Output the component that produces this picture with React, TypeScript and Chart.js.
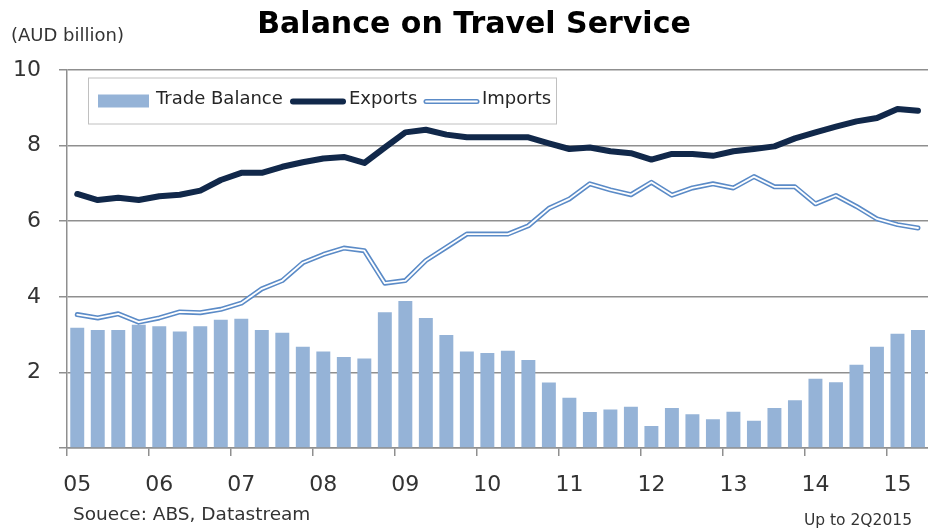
import React, { useEffect, useRef } from "react";
import { Chart, registerables } from "chart.js";

Chart.register(...registerables);

const years = ["05", "06", "07", "08", "09", "10", "11", "12", "13", "14", "15"];
const quarters = years.flatMap((y) => ["1Q", "2Q", "3Q", "4Q"].map((q) => q + y)).slice(0, 42);

const tradeBalance = [
  3.18, 3.12, 3.12, 3.26, 3.22, 3.08, 3.22, 3.39, 3.42, 3.12,
  3.05, 2.68, 2.55, 2.41, 2.37, 3.59, 3.89, 3.44, 2.99, 2.55,
  2.51, 2.57, 2.33, 1.73, 1.33, 0.95, 1.02, 1.09, 0.58, 1.06,
  0.89, 0.76, 0.96, 0.72, 1.06, 1.26, 1.83, 1.74, 2.2, 2.68,
  3.02, 3.12,
];
const exportsData = [
  6.72, 6.56, 6.62, 6.56, 6.66, 6.7, 6.81, 7.09, 7.28, 7.28,
  7.44, 7.56, 7.66, 7.7, 7.54, 7.95, 8.35, 8.42, 8.29, 8.22,
  8.22, 8.22, 8.22, 8.06, 7.91, 7.95, 7.85, 7.8, 7.63, 7.78,
  7.78, 7.73, 7.85, 7.91, 7.98, 8.19, 8.35, 8.5, 8.64, 8.73,
  8.97, 8.92,
];
const importsData = [
  3.53, 3.44, 3.55, 3.33, 3.44, 3.6, 3.58, 3.67, 3.83, 4.21,
  4.43, 4.9, 5.12, 5.29, 5.22, 4.36, 4.43, 4.96, 5.31, 5.66,
  5.66, 5.66, 5.88, 6.34, 6.59, 6.99, 6.83, 6.7, 7.03, 6.69,
  6.88, 6.99, 6.88, 7.18, 6.91, 6.91, 6.46, 6.68, 6.39, 6.06,
  5.91, 5.82,
];

const TITLE = "Balance on Travel Service";
const UNIT = "(AUD billion)";
const SOURCE = "Souece: ABS, Datastream";
const NOTE = "Up to 2Q2015";
const LEGEND = ["Trade Balance", "Exports", "Imports"];

const BAR_COLOR = "#95B3D7";
const EXP_COLOR = "#11284A";
const IMP_COLOR = "#5B8BC7";
const GRID = "#8f8f8f";
const FONT = "'DejaVu Sans', Verdana, sans-serif";

const decorPlugin = {
  id: "decor",
  afterDraw(chart: any) {
    const ctx = chart.ctx as CanvasRenderingContext2D;
    const ca = chart.chartArea;
    ctx.save();
    // title
    ctx.fillStyle = "#000";
    ctx.font = "bold 30px " + FONT;
    ctx.textAlign = "center";
    ctx.textBaseline = "middle";
    ctx.fillText(TITLE, 474, 25);
    // unit
    ctx.fillStyle = "#333";
    ctx.font = "18px " + FONT;
    ctx.textAlign = "left";
    ctx.fillText(UNIT, 11, 36);
    // source
    ctx.font = "18.5px " + FONT;
    ctx.fillText(SOURCE, 73, 515);
    // note
    ctx.font = "15.5px " + FONT;
    ctx.textAlign = "right";
    ctx.fillText(NOTE, 912, 521);

    // legend box
    const bx = ca.left + 21;
    const by = ca.top + 7.5;
    ctx.fillStyle = "#fff";
    ctx.fillRect(bx, by, 468, 46);
    ctx.strokeStyle = "#c0c0c0";
    ctx.lineWidth = 1;
    ctx.strokeRect(bx + 0.5, by + 0.5, 468, 46);
    const cy = by + 23;
    ctx.font = "18px " + FONT;
    ctx.textAlign = "left";
    ctx.textBaseline = "middle";
    // trade balance swatch
    ctx.fillStyle = BAR_COLOR;
    ctx.fillRect(98, cy - 6, 51, 13);
    ctx.fillStyle = "#262626";
    ctx.fillText(LEGEND[0], 156, cy - 1);
    // exports
    ctx.lineCap = "round";
    ctx.strokeStyle = EXP_COLOR;
    ctx.lineWidth = 6;
    ctx.beginPath();
    ctx.moveTo(293, cy + 1);
    ctx.lineTo(343, cy + 1);
    ctx.stroke();
    ctx.fillText(LEGEND[1], 349, cy - 1);
    // imports
    ctx.strokeStyle = IMP_COLOR;
    ctx.lineWidth = 5;
    ctx.beginPath();
    ctx.moveTo(426, cy + 1);
    ctx.lineTo(477, cy + 1);
    ctx.stroke();
    ctx.strokeStyle = "#fff";
    ctx.lineWidth = 1.8;
    ctx.beginPath();
    ctx.moveTo(426, cy + 1);
    ctx.lineTo(477, cy + 1);
    ctx.stroke();
    ctx.fillStyle = "#262626";
    ctx.fillText(LEGEND[2], 482, cy - 1);
    ctx.restore();
  },
};

export default function App() {
  const ref = useRef<HTMLCanvasElement | null>(null);
  useEffect(() => {
    if (!ref.current) return;
    Chart.defaults.font.family = FONT;
    const chart = new Chart(ref.current, {
      type: "bar",
      data: {
        labels: quarters,
        datasets: [
          {
            type: "line",
            label: "Exports",
            data: exportsData,
            borderColor: EXP_COLOR,
            borderWidth: 6,
            pointRadius: 0,
            tension: 0,
            borderJoinStyle: "round",
            borderCapStyle: "round",
            order: 0,
          } as any,
          {
            type: "line",
            label: "Imports inner",
            data: importsData,
            borderColor: "#ffffff",
            borderWidth: 1.8,
            pointRadius: 0,
            tension: 0,
            borderJoinStyle: "round",
            borderCapStyle: "round",
            order: 1,
          } as any,
          {
            type: "line",
            label: "Imports",
            data: importsData,
            borderColor: IMP_COLOR,
            borderWidth: 5,
            pointRadius: 0,
            tension: 0,
            borderJoinStyle: "round",
            borderCapStyle: "round",
            order: 2,
          } as any,
          {
            type: "bar",
            label: "Trade Balance",
            data: tradeBalance,
            backgroundColor: BAR_COLOR,
            borderWidth: 0,
            barPercentage: 0.68,
            categoryPercentage: 1,
            order: 3,
          } as any,
        ],
      },
      options: {
        animation: false,
        responsive: true,
        maintainAspectRatio: false,
        layout: { padding: { top: 70, right: 2, left: 0, bottom: 0 } },
        plugins: { legend: { display: false }, tooltip: { enabled: false }, title: { display: false } },
        scales: {
          x: {
            offset: true,
            grid: {
              offset: true,
              drawOnChartArea: false,
              drawTicks: true,
              tickLength: 8,
              color: (c: any) => (c.index % 4 === 0 ? GRID : "rgba(0,0,0,0)"),
              lineWidth: 1.5,
            },
            border: { color: GRID, width: 1.5 },
            ticks: {
              autoSkip: false,
              maxRotation: 0,
              minRotation: 0,
              padding: 16,
              color: "#333",
              font: { size: 22, family: FONT },
              callback: (_v: any, i: number) => (i % 4 === 0 ? years[i / 4] : ""),
            },
            afterFit: (s: any) => {
              s.height = 82;
            },
          },
          y: {
            min: 0,
            max: 10,
            grid: { color: GRID, lineWidth: 1.5, tickLength: 8 },
            border: { color: GRID, width: 1.5 },
            ticks: {
              stepSize: 2,
              padding: 18,
              color: "#333",
              font: { size: 22, family: FONT },
              callback: (v: any) => (v === 0 ? "" : String(v)),
            },
            afterFit: (s: any) => {
              s.width = 67;
            },
          },
        },
      },
      plugins: [decorPlugin],
    });
    return () => chart.destroy();
  }, []);
  return (
    <div style={{ position: "fixed", left: 0, top: 0, width: 934, height: 530, background: "#fff" }}>
      <canvas ref={ref} />
    </div>
  );
}
